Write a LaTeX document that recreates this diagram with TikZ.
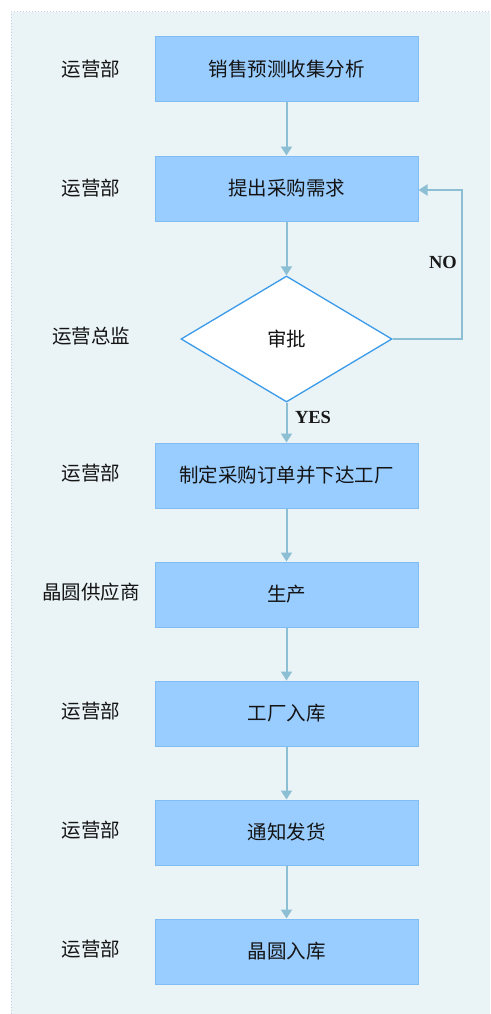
\documentclass[tikz,border=0pt]{standalone}
\usepackage{fontspec}
\setmainfont{Liberation Serif}
\newfontfamily\cjk{Noto Sans CJK SC}
\usetikzlibrary{shapes.geometric,arrows.meta}
\definecolor{bgc}{HTML}{EAF3F6}
\definecolor{framec}{HTML}{C8CCE6}
\definecolor{boxfill}{HTML}{99CCFF}
\definecolor{boxline}{HTML}{80BDF5}
\definecolor{arrc}{HTML}{8CBFD4}
\definecolor{diaml}{HTML}{3A9BEA}
\tikzset{
  x=1pt,y=-1pt,
  stepbox/.style={draw=boxline,line width=1pt,fill=boxfill,minimum width=263pt,minimum height=65pt,inner sep=0pt,font=\cjk\fontsize{19.5}{21}\selectfont,text=black!92},
  decision/.style={diamond,aspect=1.68,draw=diaml,line width=1.3pt,fill=white,minimum width=211pt,minimum height=126pt,inner sep=0pt,font=\cjk\fontsize{19.5}{21}\selectfont,text=black!92},
  role/.style={font=\cjk\fontsize{19.5}{21}\selectfont,text=black!92},
  flow/.style={draw=arrc,line width=2pt,-{Triangle[width=11pt,length=9pt]}},
  yn/.style={font=\bfseries\fontsize{18.5}{20}\selectfont,text=black!90}
}
\begin{document}
\begin{tikzpicture}
\useasboundingbox (0,0) rectangle (490,1014);
\fill[white] (0,0) rectangle (490,1014);
\fill[bgc] (11,12) rectangle (490,1014);
\draw[framec,line width=1pt,dotted] (11,1014) -- (11,12) -- (490,12);

\node[stepbox] (b1) at (286.5,69.5) {销售预测收集分析};
\node[stepbox] (b2) at (286.5,188.5) {提出采购需求};
\node[decision] (d) at (286.5,339) {审批};
\node[stepbox] (b4) at (286.5,475.5) {制定采购订单并下达工厂};
\node[stepbox] (b5) at (286.5,594.5) {生产};
\node[stepbox] (b6) at (286.5,713.5) {工厂入库};
\node[stepbox] (b7) at (286.5,832.5) {通知发货};
\node[stepbox] (b8) at (286.5,951.5) {晶圆入库};

\node[role] (r1) at (91,69.5) {运营部};
\node[role] (r2) at (91,188.5) {运营部};
\node[role] (r3) at (91,336) {运营总监};
\node[role] (r4) at (91,473) {运营部};
\node[role] (r5) at (91,592) {晶圆供应商};
\node[role] (r6) at (91,711) {运营部};
\node[role] (r7) at (91,830) {运营部};
\node[role] (r8) at (91,949) {运营部};

\draw[flow] (b1) -- (b2);
\draw[flow] (b2) -- (d);
\draw[flow] (d) -- (b4);
\draw[flow] (b4) -- (b5);
\draw[flow] (b5) -- (b6);
\draw[flow] (b6) -- (b7);
\draw[flow] (b7) -- (b8);

\coordinate (c1) at (462,339);
\coordinate (c2) at (462,190);
\draw[flow] (d.east) -- (c1) -- (c2) -- (b2.east |- c2);

\node[yn] (no) at (443,262) {NO};
\node[yn] (yes) at (313,417) {YES};
\end{tikzpicture}
\end{document}
